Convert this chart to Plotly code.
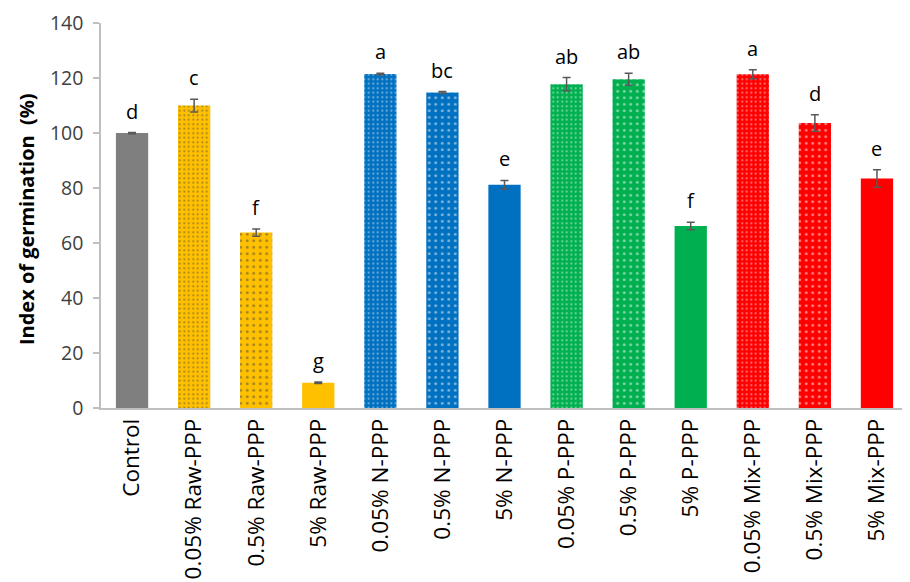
import plotly.graph_objects as go

categories = ["Control", "0.05% Raw-PPP", "0.5% Raw-PPP", "5% Raw-PPP",
              "0.05% N-PPP", "0.5% N-PPP", "5% N-PPP",
              "0.05% P-PPP", "0.5% P-PPP", "5% P-PPP",
              "0.05% Mix-PPP", "0.5% Mix-PPP", "5% Mix-PPP"]
values = [100.0, 110.0, 63.8, 9.2, 121.5, 114.8, 81.2, 117.8, 119.6, 66.2, 121.4, 103.7, 83.5]
errors = [0.2, 2.3, 1.3, 0.3, 0.3, 0.3, 1.6, 2.4, 2.2, 1.4, 1.6, 3.0, 3.2]
letters = ["d", "c", "f", "g", "a", "bc", "e", "ab", "ab", "f", "a", "d", "e"]
y_ticks = [0, 20, 40, 60, 80, 100, 120, 140]

colors = ["#7F7F7F", "#FFC000", "#FFC000", "#FFC000",
          "#0070C0", "#0070C0", "#0070C0",
          "#00B050", "#00B050", "#00B050",
          "#FF0000", "#FF0000", "#FF0000"]
pattern_shapes = ["", ".", ".", "", ".", ".", "", ".", ".", "", ".", ".", ""]
pattern_sizes = [8, 4.5, 6.5, 8, 4.5, 6.5, 8, 4.5, 6.5, 8, 4.5, 6.5, 8]

fig = go.Figure()
fig.add_trace(go.Bar(
    x=categories, y=values,
    marker=dict(color=colors, line=dict(width=0),
                pattern=dict(shape=pattern_shapes, size=pattern_sizes,
                             solidity=0.16, fgcolor="rgba(255,255,255,0.8)",
                             fillmode="overlay")),
    error_y=dict(type="data", array=errors, visible=True,
                 color="#595959", thickness=1.5, width=4),
    showlegend=False,
))

for c, v, e, t in zip(categories, values, errors, letters):
    fig.add_annotation(x=c, y=v + e, text=t, showarrow=False,
                       yanchor="bottom", yshift=6,
                       font=dict(size=20, color="#000000", family="Open Sans"))

fig.add_annotation(xref="paper", yref="paper", x=-0.092, y=0.49,
                   text="<b>Index of germination  (%)</b>", showarrow=False,
                   textangle=-90, xanchor="center", yanchor="middle",
                   font=dict(size=20, family="Open Sans", color="#000000"))

fig.update_layout(
    width=910, height=582,
    margin=dict(l=93, r=10, t=15, b=182),
    paper_bgcolor="white", plot_bgcolor="white",
    bargap=0.48,
    font=dict(family="Open Sans", color="#000000"),
)
fig.update_xaxes(
    showline=True, linecolor="#BFBFBF", linewidth=1.5, automargin=False,
    tickangle=-90, tickfont=dict(size=22.5, family="Open Sans", color="#000000"),
    ticks="", showgrid=False,
)
fig.update_yaxes(
    range=[0, 140.05], tickmode="array", tickvals=y_ticks,
    showline=True, linecolor="#BFBFBF", linewidth=1.5,
    automargin=False, ticklabeloverflow="allow",
    ticks="outside", ticklen=6, tickcolor="#BFBFBF", tickwidth=1.5,
    ticklabelstandoff=6,
    tickfont=dict(size=19.5, family="Open Sans", color="#404040"),
    showgrid=False, zeroline=False,
)

fig.write_html("out.html")
